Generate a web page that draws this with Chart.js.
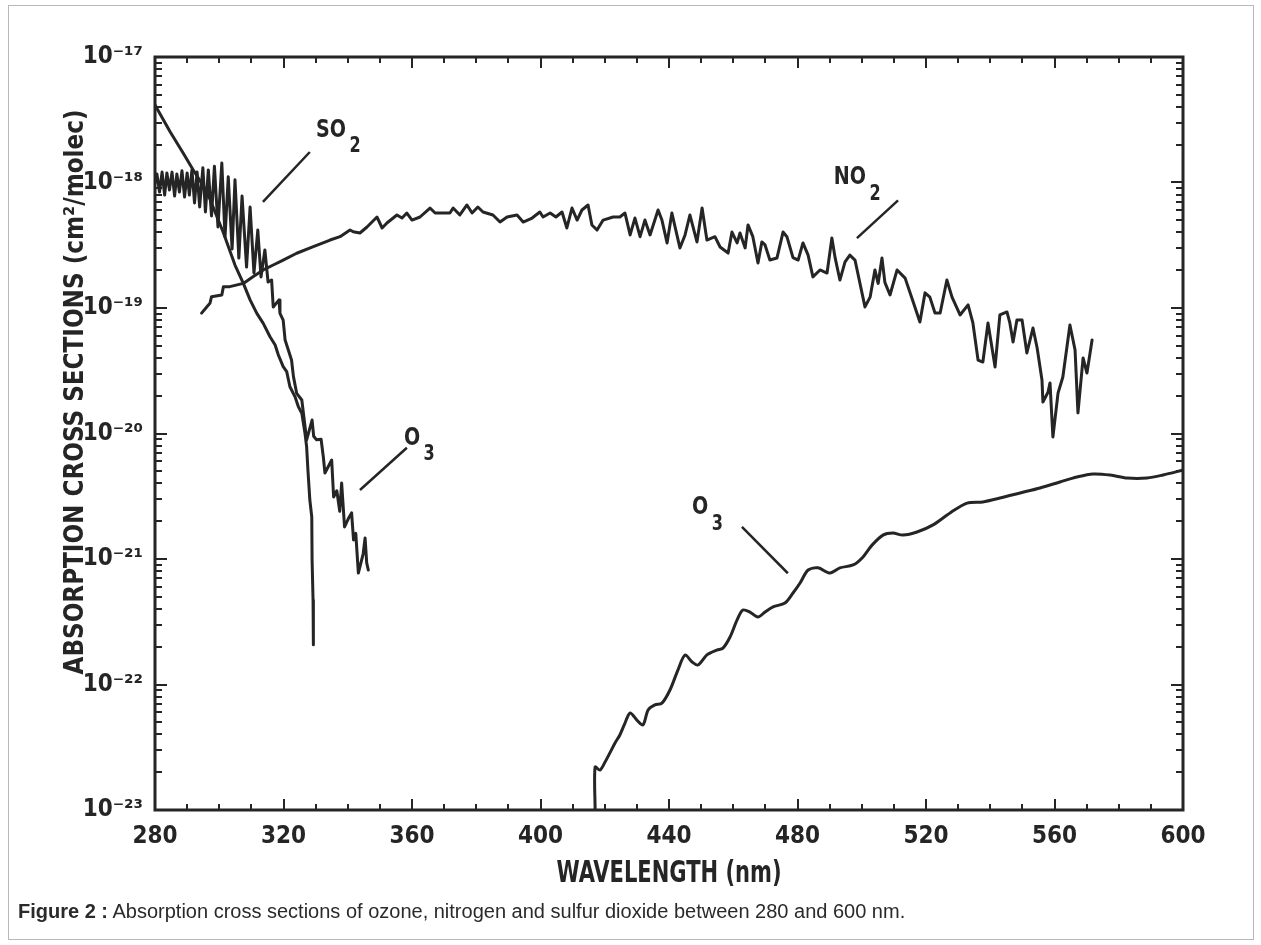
<!DOCTYPE html>
<html><head><meta charset="utf-8">
<script src="https://cdn.jsdelivr.net/npm/chart.js@4.4.1/dist/chart.umd.min.js"></script>
<style>
html,body{margin:0;padding:0;background:#fff;}
#wrap{position:relative;width:1261px;height:945px;overflow:hidden;background:#fff;}
#c{position:absolute;left:0;top:0;}
#frame{position:absolute;left:8px;top:5px;width:1246px;height:935px;border:1px solid #b8b8b8;box-sizing:border-box;pointer-events:none;}
#caption{position:absolute;left:18px;top:899px;font-family:'Liberation Sans',Arial,sans-serif;font-size:20px;line-height:24px;color:#2a2a2a;white-space:nowrap;}
</style></head><body>
<div id="wrap">
<canvas id="c" width="1261" height="945"></canvas>
<div id="frame"></div>
<div id="caption"><b>Figure 2 :</b> Absorption cross sections of ozone, nitrogen and sulfur dioxide between 280 and 600 nm.</div>
</div>
<script>
// ---------------- DATA ----------------
// Series drawn from 280 nm: smooth branch continuing into the steep drop near 329 nm
const uvSmoothWavelength = [280.0,284.7,288.8,291.9,296.2,301.2,304.9,307.5,309.6,311.7,313.7,315.8,317.4,318.4,319.9,321.0,322.0,323.6,324.6,325.7,326.7,327.2,327.6,328.2,328.8,328.9,329.2,329.3];
const uvSmoothSigma = [4.15e-18,2.54e-18,1.71e-18,1.26e-18,8.4e-19,4.03e-19,2.2e-19,1.57e-19,1.16e-19,9.07e-20,7.55e-20,5.9e-20,5.07e-20,4.22e-20,3.41e-20,3.11e-20,2.36e-20,1.96e-20,1.64e-20,1.45e-20,1.0e-20,7.85e-21,5.12e-21,2.95e-21,2.16e-21,9.8e-22,4.71e-22,2.07e-22];

// Banded series from 280 nm (SO2 bands) continuing into the banded tail ending near 346 nm
const uvBandWavelength = [280.0,280.6,281.4,282.2,283.0,283.7,284.5,285.3,286.1,286.8,287.6,288.4,289.2,290.0,290.7,291.5,292.3,293.1,293.9,294.9,295.7,296.6,297.6,298.5,299.6,300.8,301.8,302.8,304.0,304.9,306.1,307.1,308.5,309.6,310.8,312.0,313.0,314.2,315.2,316.3,316.8,318.6,318.9,319.9,320.5,321.5,322.5,323.1,324.1,325.7,326.2,327.2,328.9,329.4,330.3,331.7,332.4,332.9,335.0,335.6,336.6,337.5,338.1,339.0,340.2,341.2,341.8,342.5,343.3,344.8,345.4,345.9,346.4];
const uvBandSigma = [9.9e-19,1.17e-18,8.4e-19,1.21e-18,7.94e-19,1.19e-18,8.71e-19,1.21e-18,7.8e-19,1.17e-18,8.4e-19,1.24e-18,7.66e-19,1.19e-18,7.94e-19,1.26e-18,6.87e-19,1.21e-18,6.38e-19,1.31e-18,5.82e-19,1.26e-18,5.41e-19,1.35e-18,4.42e-19,1.43e-18,3.68e-19,1.11e-18,2.95e-19,1.05e-18,2.5e-19,7.8e-19,2.12e-19,6.38e-19,1.9e-19,4.18e-19,1.77e-19,2.9e-19,1.61e-19,1.67e-19,1.02e-19,1.16e-19,9.07e-20,8.02e-20,5.56e-20,4.63e-20,3.85e-20,2.84e-20,2.09e-20,1.85e-20,1.45e-20,8.9e-21,1.28e-20,9.5e-21,8.9e-21,9.0e-21,6.5e-21,4.84e-21,6.15e-21,3.12e-21,3.5e-21,2.4e-21,4.03e-21,1.8e-21,2.1e-21,2.33e-21,1.42e-21,1.6e-21,7.73e-22,1.1e-21,1.47e-21,9.3e-22,8.17e-22];

// NO2
const no2Wavelength = [294.5,296.1,297.1,297.6,300.8,301.3,303.3,307.5,310.6,313.7,316.8,319.9,324.1,329.3,334.5,337.6,340.7,341.7,343.8,346.0,349.1,350.7,352.2,355.3,356.9,358.4,360.0,362.5,365.6,367.2,371.8,372.8,374.9,377.1,378.7,380.5,382.1,385.2,387.4,389.6,392.7,394.6,397.4,399.8,400.8,403.0,404.8,406.7,408.2,409.8,411.4,412.9,414.8,416.0,417.6,419.5,422.6,424.7,426.3,427.9,429.4,431.0,432.5,434.1,436.6,437.8,439.4,440.9,443.4,445.0,446.5,448.7,450.3,451.8,454.3,455.9,458.4,459.6,461.2,462.1,463.7,464.6,466.1,467.7,468.9,469.9,471.4,473.6,475.5,476.7,478.6,480.2,481.7,483.3,484.8,487.0,489.2,490.7,491.7,493.2,494.8,496.3,497.9,501.0,502.6,504.1,505.1,506.3,507.2,508.8,511.0,513.5,515.6,518.1,519.7,521.2,522.8,524.4,526.5,528.1,530.6,533.1,534.6,536.2,537.7,539.3,541.5,543.0,545.2,546.1,547.1,548.3,549.9,551.4,553.3,554.6,556.1,556.4,558.0,558.6,559.5,561.1,562.6,564.8,566.4,567.3,568.9,570.1,571.7];
const no2Sigma = [9.1e-20,1.02e-19,1.09e-19,1.23e-19,1.27e-19,1.48e-19,1.48e-19,1.57e-19,1.78e-19,2.01e-19,2.2e-19,2.41e-19,2.73e-19,3.08e-19,3.48e-19,3.7e-19,4.18e-19,4.05e-19,3.96e-19,4.42e-19,5.31e-19,4.34e-19,4.76e-19,5.51e-19,5.21e-19,5.71e-19,5.02e-19,5.31e-19,6.26e-19,5.71e-19,5.71e-19,6.26e-19,5.51e-19,6.62e-19,5.71e-19,6.38e-19,5.82e-19,5.51e-19,4.84e-19,5.31e-19,5.51e-19,4.84e-19,5.21e-19,5.82e-19,5.31e-19,5.71e-19,5.31e-19,5.82e-19,4.34e-19,6.26e-19,5.02e-19,6.04e-19,6.62e-19,4.59e-19,4.18e-19,5.02e-19,5.31e-19,5.31e-19,5.71e-19,3.82e-19,5.21e-19,3.7e-19,5.02e-19,3.82e-19,6.04e-19,5.02e-19,3.3e-19,5.71e-19,3.01e-19,3.82e-19,5.51e-19,3.36e-19,6.26e-19,3.48e-19,3.7e-19,3.06e-19,2.74e-19,4.03e-19,3.3e-19,3.96e-19,3.01e-19,4.59e-19,3.7e-19,2.28e-19,3.36e-19,3.18e-19,2.41e-19,2.5e-19,4.03e-19,3.7e-19,2.52e-19,2.41e-19,3.3e-19,2.64e-19,1.77e-19,2.01e-19,1.9e-19,3.61e-19,2.52e-19,1.67e-19,2.33e-19,2.64e-19,2.41e-19,1.02e-19,1.22e-19,2.01e-19,1.57e-19,2.5e-19,1.6e-19,1.27e-19,2.01e-19,1.73e-19,1.2e-19,7.73e-20,1.32e-19,1.22e-19,9.12e-20,9.12e-20,1.67e-19,1.22e-19,8.8e-20,1.06e-19,7.6e-20,3.85e-20,3.71e-20,7.6e-20,3.39e-20,8.8e-20,9.3e-20,7.6e-20,5.36e-20,8.02e-20,8.02e-20,4.38e-20,6.93e-20,4.8e-20,2.67e-20,1.78e-20,2.14e-20,2.53e-20,9.38e-21,2.1e-20,2.82e-20,7.32e-20,4.63e-20,1.46e-20,4.0e-20,3.03e-20,5.56e-20];

// O3 (visible, Chappuis band)
const o3VisWavelength = [417.0,417.0,418.5,420.1,421.6,423.2,424.7,426.3,427.9,430.0,431.9,433.5,435.6,437.8,440.3,442.8,445.0,447.2,449.0,451.8,454.9,456.8,459.0,461.2,463.0,465.2,467.7,469.9,472.4,476.1,478.6,480.8,483.3,486.4,490.1,493.2,497.3,500.1,503.2,506.6,509.7,512.8,517.2,522.2,527.5,532.8,537.7,543.0,549.3,555.5,561.7,567.0,572.0,577.3,582.6,588.8,593.8,600.0];
const o3VisSigma = [1.0e-23,2.2e-23,2.08e-23,2.41e-23,2.85e-23,3.42e-23,3.96e-23,4.93e-23,5.93e-23,5.21e-23,4.76e-23,6.26e-23,6.87e-23,7.1e-23,9.04e-23,1.31e-22,1.72e-22,1.51e-22,1.43e-22,1.72e-22,1.88e-22,1.95e-22,2.39e-22,3.27e-22,3.92e-22,3.78e-22,3.45e-22,3.78e-22,4.15e-22,4.46e-22,5.36e-22,6.44e-22,8.17e-22,8.5e-22,7.73e-22,8.5e-22,8.96e-22,1.02e-21,1.29e-21,1.55e-21,1.61e-21,1.55e-21,1.64e-21,1.87e-21,2.33e-21,2.79e-21,2.85e-21,3.06e-21,3.36e-21,3.68e-21,4.11e-21,4.5e-21,4.76e-21,4.67e-21,4.42e-21,4.42e-21,4.67e-21,5.12e-21];

// Axes
const xMin = 280, xMax = 600, xMajorStep = 40, xMinorStep = 10;
const yMin = 1e-23, yMax = 1e-17;
const yDecades = [1e-23,1e-22,1e-21,1e-20,1e-19,1e-18,1e-17];

// Texts
const xTitle = 'WAVELENGTH (nm)';
const yTitle = 'ABSORPTION CROSS SECTIONS (cm\u00B2/molec)';
// Curve labels
const labelText = ['SO','NO','O','O'];
const labelSub = ['2','2','3','3'];
const labelAt = [[334.8,2.62e-18],[496.3,1.09e-18],[360.0,9.2e-21],[449.7,2.55e-21]];
const leaderFrom = [[328.2,1.75e-18],[511.3,7.2e-19],[343.8,3.55e-21],[462.7,1.8e-21]];
const leaderTo = [[313.6,7.0e-19],[498.5,3.6e-19],[358.4,7.7e-21],[477.0,7.7e-22]];

// ---------------- CHART ----------------
const INK = '#252525';
const FONT = "'DejaVu Sans Condensed','Liberation Sans Narrow','DejaVu Sans',sans-serif";
const toPts = (xs, ys) => xs.map((v, i) => ({x: v, y: ys[i]}));
const supMap = {'0':'\u2070','1':'\u00B9','2':'\u00B2','3':'\u00B3','4':'\u2074','5':'\u2075','6':'\u2076','7':'\u2077','8':'\u2078','9':'\u2079','-':'\u207B'};
const sup = s => String(s).split('').map(c => supMap[c] || c).join('');

function line(ctx, x1, y1, x2, y2) { ctx.beginPath(); ctx.moveTo(x1, y1); ctx.lineTo(x2, y2); ctx.stroke(); }
function fitText(ctx, text, cx, cy, targetW, rot) {
  const w = ctx.measureText(text).width;
  ctx.save(); ctx.translate(cx, cy); if (rot) ctx.rotate(rot);
  ctx.scale(targetW / w, 1);
  ctx.textAlign = 'center'; ctx.textBaseline = 'middle';
  ctx.fillText(text, 0, 0); ctx.restore();
}

const decorPlugin = {
  id: 'decor',
  afterDatasetsDraw(chart) {
    const {ctx, chartArea: {left, right, top, bottom}, scales: {x, y}} = chart;
    ctx.save();
    ctx.strokeStyle = INK; ctx.lineCap = 'butt';
    ctx.lineWidth = 3;
    ctx.strokeRect(left, top, right - left, bottom - top);
    ctx.lineWidth = 2;
    for (let w = xMin; w <= xMax; w += xMinorStep) {
      const px = Math.round(x.getPixelForValue(w));
      const len = (w - xMin) % xMajorStep === 0 ? 11 : 6;
      line(ctx, px, bottom, px, bottom - len);
      line(ctx, px, top, px, top + len);
    }
    for (let d = 0; d < yDecades.length - 1; d++) {
      for (let m = 1; m <= 9; m++) {
        const v = yDecades[d] * m;
        const py = Math.round(y.getPixelForValue(v));
        const len = m === 1 ? 12 : 7;
        line(ctx, left, py, left + len, py);
        line(ctx, right, py, right - len, py);
      }
    }
    ctx.lineWidth = 2.5;
    for (let i = 0; i < labelText.length; i++) {
      line(ctx, x.getPixelForValue(leaderFrom[i][0]), y.getPixelForValue(leaderFrom[i][1]),
                x.getPixelForValue(leaderTo[i][0]), y.getPixelForValue(leaderTo[i][1]));
    }
    ctx.fillStyle = INK;
    ctx.textBaseline = 'middle';
    for (let i = 0; i < labelText.length; i++) {
      const cx = x.getPixelForValue(labelAt[i][0]), cy = y.getPixelForValue(labelAt[i][1]);
      ctx.font = "bold 25px " + FONT;
      ctx.textAlign = 'center';
      ctx.save(); ctx.translate(cx, cy); ctx.scale(0.85, 1);
      ctx.fillText(labelText[i], 0, 0);
      const w = ctx.measureText(labelText[i]).width;
      ctx.font = "bold 21px " + FONT;
      ctx.textAlign = 'left';
      ctx.fillText(labelSub[i], w / 2 + 4, 17);
      ctx.restore();
    }
    ctx.font = "bold 30px " + FONT;
    fitText(ctx, xTitle, 669, 874, 225, 0);
    ctx.font = "bold 27px " + FONT;
    fitText(ctx, yTitle, 76, 392, 565, -Math.PI / 2);
    ctx.restore();
  }
};

const baseDs = {borderColor: INK, borderWidth: 3, pointRadius: 0, fill: false, tension: 0, borderJoinStyle: 'round', borderCapStyle: 'round'};

new Chart(document.getElementById('c'), {
  type: 'line',
  data: {
    datasets: [
      Object.assign({}, baseDs, {label: 'UV smooth branch', data: toPts(uvSmoothWavelength, uvSmoothSigma)}),
      Object.assign({}, baseDs, {label: 'UV banded branch', data: toPts(uvBandWavelength, uvBandSigma)}),
      Object.assign({}, baseDs, {label: 'NO2', data: toPts(no2Wavelength, no2Sigma)}),
      Object.assign({}, baseDs, {label: 'O3 visible', data: toPts(o3VisWavelength, o3VisSigma), tension: 0.3})
    ]
  },
  options: {
    responsive: false, animation: false, devicePixelRatio: 1,
    layout: {padding: {left: 0, top: 57, right: 78, bottom: 0}},
    plugins: {legend: {display: false}, tooltip: {enabled: false}},
    scales: {
      x: {
        type: 'linear', min: xMin, max: xMax,
        grid: {display: false, drawTicks: false}, border: {display: false},
        ticks: {stepSize: xMajorStep, autoSkip: false, maxRotation: 0, padding: 12, color: INK,
                font: {family: FONT, size: 24, weight: 'bold'}},
        afterFit: s => { s.height = 135; }
      },
      y: {
        type: 'logarithmic', min: yMin, max: yMax,
        grid: {display: false, drawTicks: false}, border: {display: false},
        afterBuildTicks: s => { s.ticks = yDecades.map(v => ({value: v, major: true})); },
        ticks: {autoSkip: false, padding: 12, color: INK, font: {family: FONT, size: 24, weight: 'bold'},
                callback: v => '10' + sup(Math.round(Math.log10(v)))},
        afterFit: s => { s.width = 155; }
      }
    }
  },
  plugins: [decorPlugin]
});
</script>
</body></html>
